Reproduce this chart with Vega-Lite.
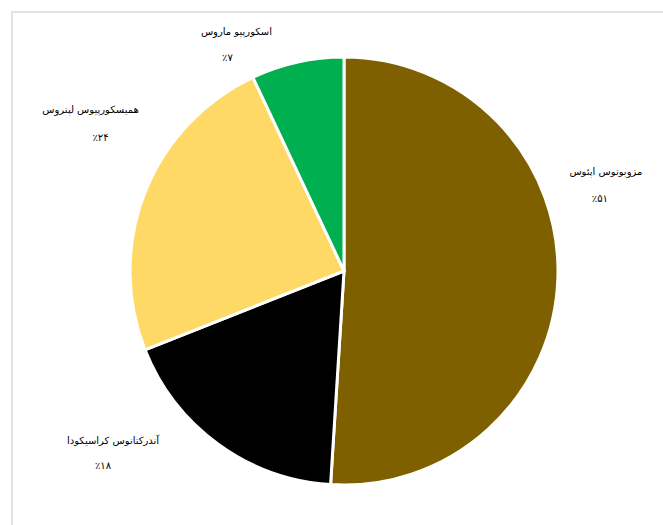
{
  "$schema": "https://vega.github.io/schema/vega-lite/v6.json",
  "width": 664,
  "height": 518,
  "autosize": {"type": "none"},
  "padding": {"left": 12, "top": 12, "right": 0, "bottom": 0},
  "background": "white",
  "view": {"stroke": "#d9d9d9", "strokeWidth": 1.5},
  "config": {"view": {"stroke": "#d9d9d9", "strokeWidth": 1.5}},
  "data": {
    "values": [
      {"name": "مزوبوتوس اپئوس", "pct": "٪۵۱", "value": 51, "order": 1},
      {"name": "آندرکتانوس کراسیکودا", "pct": "٪۱۸", "value": 18, "order": 2},
      {"name": "همیسکورپیوس لپتروس", "pct": "٪۲۴", "value": 24, "order": 3},
      {"name": "اسکورپیو ماروس", "pct": "٪۷", "value": 7, "order": 4}
    ]
  },
  "encoding": {
    "theta": {"field": "value", "type": "quantitative", "stack": true},
    "order": {"field": "order", "type": "quantitative"}
  },
  "layer": [
    {
      "mark": {"type": "arc", "outerRadius": 214, "stroke": "white", "strokeWidth": 3},
      "encoding": {
        "color": {
          "field": "name",
          "type": "nominal",
          "scale": {
            "domain": ["مزوبوتوس اپئوس", "آندرکتانوس کراسیکودا", "همیسکورپیوس لپتروس", "اسکورپیو ماروس"],
            "range": ["#7f6000", "#000000", "#ffd966", "#00b050"]
          },
          "legend": null
        }
      }
    },
    {
      "mark": {"type": "text", "radius": 250, "dx": 12, "dy": -107, "font": "DejaVu Sans", "fontSize": 10, "fill": "#000000"},
      "encoding": {"text": {"condition": {"test": "datum.order == 1", "field": "name"}, "value": ""}}
    },
    {
      "mark": {"type": "text", "radius": 250, "dx": 6, "dy": -80, "font": "DejaVu Sans", "fontSize": 10, "fill": "#000000"},
      "encoding": {"text": {"condition": {"test": "datum.order == 1", "field": "pct"}, "value": ""}}
    },
    {
      "mark": {"type": "text", "radius": 250, "dx": -84, "dy": -32, "font": "DejaVu Sans", "fontSize": 10, "fill": "#000000"},
      "encoding": {"text": {"condition": {"test": "datum.order == 2", "field": "name"}, "value": ""}}
    },
    {
      "mark": {"type": "text", "radius": 250, "dx": -94, "dy": -7, "font": "DejaVu Sans", "fontSize": 10, "fill": "#000000"},
      "encoding": {"text": {"condition": {"test": "datum.order == 2", "field": "pct"}, "value": ""}}
    },
    {
      "mark": {"type": "text", "radius": 250, "dx": -21, "dy": -69, "font": "DejaVu Sans", "fontSize": 10, "fill": "#000000"},
      "encoding": {"text": {"condition": {"test": "datum.order == 3", "field": "name"}, "value": ""}}
    },
    {
      "mark": {"type": "text", "radius": 250, "dx": -11, "dy": -41, "font": "DejaVu Sans", "fontSize": 10, "fill": "#000000"},
      "encoding": {"text": {"condition": {"test": "datum.order == 3", "field": "pct"}, "value": ""}}
    },
    {
      "mark": {"type": "text", "radius": 250, "dx": -53, "dy": 5, "font": "DejaVu Sans", "fontSize": 10, "fill": "#000000"},
      "encoding": {"text": {"condition": {"test": "datum.order == 4", "field": "name"}, "value": ""}}
    },
    {
      "mark": {"type": "text", "radius": 250, "dx": -62, "dy": 31, "font": "DejaVu Sans", "fontSize": 10, "fill": "#000000"},
      "encoding": {"text": {"condition": {"test": "datum.order == 4", "field": "pct"}, "value": ""}}
    }
  ]
}
